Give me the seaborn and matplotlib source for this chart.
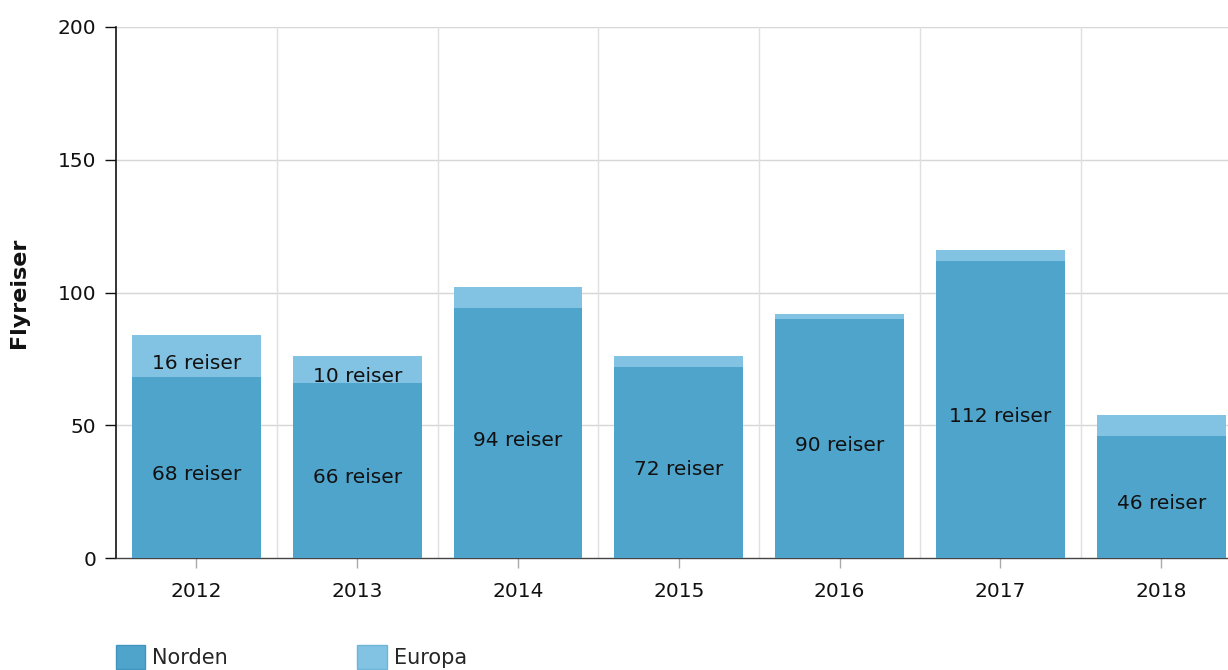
import matplotlib

matplotlib.use("Agg")

import matplotlib.pyplot as plt
import pandas as pd
import seaborn as sns
from matplotlib.patches import Patch

# data
years = ["2012", "2013", "2014", "2015", "2016", "2017", "2018"]
norden = [68, 66, 94, 72, 90, 112, 46]
europa = [16, 10, 8, 4, 2, 4, 8]

NORDEN_COLOR = "#4FA4CC"
EUROPA_COLOR = "#82C3E3"
FS = 14.5

df = pd.DataFrame({"year": years, "norden": norden, "europa": europa})
df["total"] = df["norden"] + df["europa"]

sns.set_style("white")
plt.rcParams["font.family"] = ["DejaVu Sans"]

fig = plt.figure(figsize=(12.28, 6.70), dpi=100)
ax = fig.add_axes([116 / 1228, 1 - 558 / 670, 1125.6 / 1228, 531 / 670])

# stacked bars: draw totals in Europa colour, then Norden over them
sns.barplot(data=df, x="year", y="total", color=EUROPA_COLOR, width=0.8,
            saturation=1, linewidth=0, edgecolor="none", ax=ax, zorder=2)
sns.barplot(data=df, x="year", y="norden", color=NORDEN_COLOR, width=0.8,
            saturation=1, linewidth=0, edgecolor="none", ax=ax, zorder=3)

# data labels
for i, row in df.iterrows():
    ax.annotate(f"{row['norden']} reiser", (i, row["norden"] / 2),
                xytext=(0, -5), textcoords="offset points",
                ha="center", va="center", fontsize=FS, color="#111111", zorder=5)
    if row["europa"] >= 10:
        ax.annotate(f"{row['europa']} reiser", (i, row["norden"] + row["europa"] / 2),
                    xytext=(0, -5), textcoords="offset points",
                    ha="center", va="center", fontsize=FS, color="#111111", zorder=5)

ax.set_xlim(-0.5, 6.5)
ax.set_ylim(0, 200)
ax.set_yticks([0, 50, 100, 150, 200])

# grid
for y in [50, 100, 150, 200]:
    ax.axhline(y, color="#d6d6d6", lw=1, zorder=1)
for x in range(6):
    ax.axvline(x + 0.5, color="#e0e0e0", lw=1, zorder=1)

for side in ["top", "right"]:
    ax.spines[side].set_visible(False)
ax.spines["left"].set_color("#111111")
ax.spines["left"].set_linewidth(1.2)
ax.spines["bottom"].set_color("#444444")
ax.spines["bottom"].set_linewidth(1)

ax.tick_params(axis="y", length=8, width=1, color="#111111", labelsize=FS,
               labelcolor="#111111", pad=6, left=True)
ax.tick_params(axis="x", length=7, width=1, color="#aaaaaa", labelsize=FS,
               labelcolor="#111111", pad=10, bottom=True)

ax.set_xlabel("")
ax.set_ylabel("Flyreiser", fontsize=16, fontweight="bold", color="#111111", labelpad=21)

# legend at bottom
handles = [
    Patch(facecolor=NORDEN_COLOR, edgecolor="#3f95be", label="Norden"),
    Patch(facecolor=EUROPA_COLOR, edgecolor="#6fb5d8", label="Europa"),
]
fig.legend(handles=handles, loc="upper left", bbox_to_anchor=(116 / 1228, 1 - 645 / 670),
           ncol=2, frameon=False, fontsize=15, handlelength=1.4, handleheight=1.4,
           handletextpad=0.35, columnspacing=6.2, borderaxespad=0, borderpad=0)

plt.savefig("out.png", dpi=100)
plt.close()
